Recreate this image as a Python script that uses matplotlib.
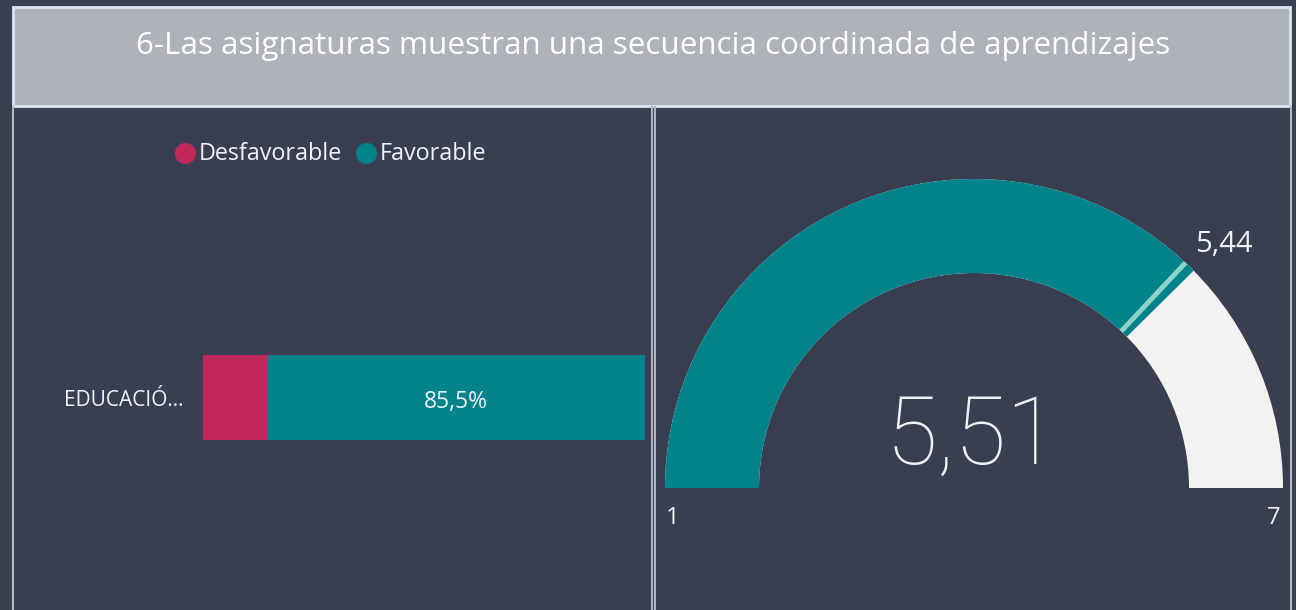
import matplotlib
matplotlib.use("Agg")
import matplotlib.pyplot as plt
from matplotlib.patches import Rectangle, Wedge
import numpy as np

plt.rcParams['font.family'] = ['Open Sans', 'DejaVu Sans']

# data
title = "6-Las asignaturas muestran una secuencia coordinada de aprendizajes"
categories = ["EDUCACIÓ..."]
series_names = ["Desfavorable", "Favorable"]
desfavorable = [14.5]
favorable = [85.5]
gauge_min, gauge_max = 1, 7
gauge_value = 5.51
gauge_target = 5.44

bg = "#393e50"
pink = "#c0285c"
teal = "#00838a"
light = "#f3f2f0"
txt = "#eef3fa"

W, H = 1296, 610
fig = plt.figure(figsize=(W / 100, H / 100), dpi=100, facecolor=bg)

def px(x0, y0, x1, y1):
    # pixel box (top-left origin) -> figure fraction rect
    return [x0 / W, 1 - y1 / H, (x1 - x0) / W, (y1 - y0) / H]

# frame layer
base = fig.add_axes([0, 0, 1, 1])
base.set_xlim(0, W)
base.set_ylim(H, 0)
base.axis('off')
base.add_patch(Rectangle((13, 7), 1277, 99, facecolor="#b0b2b9", edgecolor="#dce6f2", lw=2))
base.text(653, 46, title, ha='center', va='center', color="white", fontsize=22.6)
for x0, x1 in [(13, 652), (655, 1291)]:
    base.plot([x0, x0], [107, 612], color="#b4b6bc", lw=1.5)
    base.plot([x1, x1], [107, 612], color="#b4b6bc", lw=1.5)

# legend
base.scatter([185], [153], s=200, color=pink)
base.text(199, 154, series_names[0], va='center', ha='left', color=txt, fontsize=16.8)
base.scatter([366], [153], s=200, color=teal)
base.text(380, 154, series_names[1], va='center', ha='left', color=txt, fontsize=16.8)

# stacked bar
ax = fig.add_axes(px(203, 355, 645, 440))
ax.set_facecolor(bg)
ax.barh(categories, desfavorable, height=1.0, color=pink)
ax.barh(categories, favorable, left=desfavorable, height=1.0, color=teal)
for i, (d, f) in enumerate(zip(desfavorable, favorable)):
    ax.text(d + f / 2, i - 0.05, f"{f:.1f}%".replace(".", ","), ha='center', va='center',
            color=txt, fontsize=16.5)
ax.set_xlim(0, 100)
ax.set_ylim(-0.5, 0.5)
ax.set_xticks([])
ax.tick_params(axis='y', length=0, pad=14, labelcolor=txt, labelsize=15)
for s in ax.spines.values():
    s.set_visible(False)

# gauge
cx, cy = 974, 488
g = fig.add_axes(px(656, 110, 1290, 610))
g.set_xlim(656 - cx, 1290 - cx)
g.set_ylim(-(610 - cy), cy - 110)
g.axis('off')
r_out, width = 309, 94

def ang(v):
    return 180 - (v - gauge_min) / (gauge_max - gauge_min) * 180

g.add_patch(Wedge((0, 0), r_out, 0, 180, width=width, facecolor=light, edgecolor='none'))
g.add_patch(Wedge((0, 0), r_out, ang(gauge_value), 180, width=width, facecolor=teal, edgecolor='none'))
a = np.deg2rad(ang(gauge_target))
g.plot([(r_out - width) * np.cos(a), r_out * np.cos(a)],
       [(r_out - width) * np.sin(a), r_out * np.sin(a)], color="#8fd3c8", lw=3.5, solid_capstyle='butt')
g.text(1224 - cx, cy - 244, f"{gauge_target:.2f}".replace(".", ","), ha='center', va='center',
       color=txt, fontsize=21)
g.text(-2, cy - 438, f"{gauge_value:.2f}".replace(".", ","), ha='center', va='center',
       color=txt, fontsize=68, fontweight='light', family=['Roboto', 'DejaVu Sans'])
g.text(673 - cx, cy - 518, str(gauge_min), ha='center', va='center', color=txt, fontsize=17)
g.text(1274 - cx, cy - 518, str(gauge_max), ha='center', va='center', color=txt, fontsize=17)

fig.savefig("out.png", dpi=100, facecolor=bg)
